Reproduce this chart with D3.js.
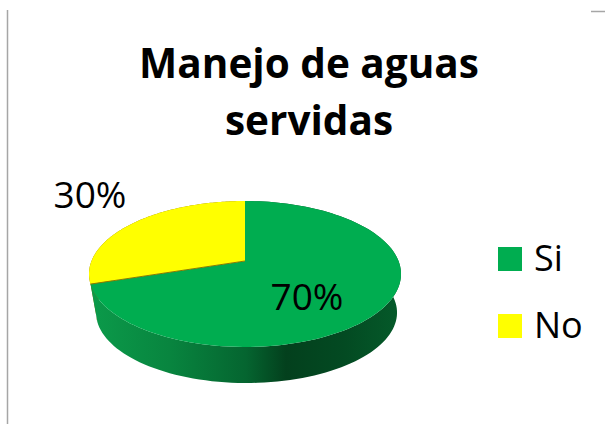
<!DOCTYPE html>
<html>
<head>
<meta charset="utf-8">
<script src="https://cdn.jsdelivr.net/npm/d3@7"></script>
<style>
  html, body { margin: 0; padding: 0; background: #fff; }
  svg { display: block; }
  text { font-family: "Open Sans", "Noto Sans", sans-serif; fill: #000; }
</style>
</head>
<body>
<script>
const categories = ["Si", "No"];
const values = [70, 30];
const percentLabels = ["70%", "30%"];
const titleLines = ["Manejo de aguas", "servidas"];

const width = 605;
const height = 424;

const colors = d3.scaleOrdinal().domain(categories).range(["#00ad50", "#ffff00"]);
const sideColors = d3.scaleOrdinal().domain(categories).range(["url(#sideGreen)", "#8a6a00"]);

const svg = d3.select("body").append("svg")
  .attr("width", width)
  .attr("height", height);

// frame leftovers from the original screenshot
svg.append("line").attr("x1", 7.5).attr("x2", 7.5).attr("y1", 10).attr("y2", height)
  .attr("stroke", "#a6a6a6").attr("stroke-width", 1.5);
svg.append("line").attr("x1", 591).attr("x2", width).attr("y1", 11.5).attr("y2", 11.5)
  .attr("stroke", "#a6a6a6").attr("stroke-width", 1.5);

const grad = svg.append("defs").append("linearGradient")
  .attr("id", "sideGreen")
  .attr("gradientUnits", "userSpaceOnUse")
  .attr("x1", 92).attr("x2", 400).attr("y1", 0).attr("y2", 0);
[[0, "#0b9a4a"], [0.25, "#08853f"], [0.5, "#056530"], [0.63, "#03401d"], [0.82, "#034a22"], [1, "#055a2a"]]
  .forEach(s => grad.append("stop").attr("offset", s[0]).attr("stop-color", s[1]));

// tilted disc: perspective projection of the unit circle, k is the foreshortening
const k = 0.178;
const apexX = 245, apexY = 261;
const scaleX = 153.5, scaleY = -24.2;
function project(a, r) {
  const X = r * Math.sin(a), Y = r * Math.cos(a);
  const w = 1 + k * Y;
  return [apexX + scaleX * X / w, (apexY + scaleY * Y) / w];
}
// lower rim of the disc, a bit narrower because it is further away
function projectBottom(a) {
  const p = project(a, 1);
  return [246.5 + (p[0] - apexX) * 0.965, 312.6 + (p[1] - 274) * 0.965];
}

const slices = d3.pie().sort(null)(values);
const line = d3.line();
const arcAngles = d => d3.range(0, 121).map(i => d.startAngle + (d.endAngle - d.startAngle) * i / 120);

// side walls first, top faces go over them
svg.selectAll("path.side")
  .data(slices.slice().reverse())
  .enter().append("path")
  .attr("class", "side")
  .attr("fill", d => sideColors(categories[d.index]))
  .attr("d", d => {
    const as = arcAngles(d);
    return line(as.map(a => project(a, 1)).concat(as.slice().reverse().map(projectBottom))) + "Z";
  });

svg.selectAll("path.top")
  .data(slices)
  .enter().append("path")
  .attr("class", "top")
  .attr("fill", d => colors(categories[d.index]))
  .attr("d", d => line([project(0, 0)].concat(arcAngles(d).map(a => project(a, 1)))) + "Z");

// thin dark edge under the yellow slice
svg.append("path")
  .attr("fill", "none").attr("stroke", "#8a7a00").attr("stroke-width", 1)
  .attr("d", line([project(0, 0), project(slices[1].startAngle, 1)]));

svg.selectAll("text.title")
  .data(titleLines)
  .enter().append("text")
  .attr("class", "title")
  .attr("x", 309)
  .attr("y", (d, i) => 78 + i * 57)
  .attr("text-anchor", "middle")
  .attr("font-weight", 700)
  .attr("font-size", 40.5)
  .text(d => d);

const labelPos = [[307, 310], [90, 208]];
svg.selectAll("text.pct")
  .data(percentLabels)
  .enter().append("text")
  .attr("class", "pct")
  .attr("x", (d, i) => labelPos[i][0])
  .attr("y", (d, i) => labelPos[i][1])
  .attr("text-anchor", "middle")
  .attr("font-size", 37)
  .text(d => d);

const legend = svg.selectAll("g.legend")
  .data(categories)
  .enter().append("g")
  .attr("class", "legend")
  .attr("transform", (d, i) => `translate(498,${247 + i * 67})`);

legend.append("rect")
  .attr("width", 24)
  .attr("height", 24)
  .attr("fill", d => colors(d));

legend.append("text")
  .attr("x", 36)
  .attr("y", 24)
  .attr("font-size", 36)
  .text(d => d);
</script>
</body>
</html>
